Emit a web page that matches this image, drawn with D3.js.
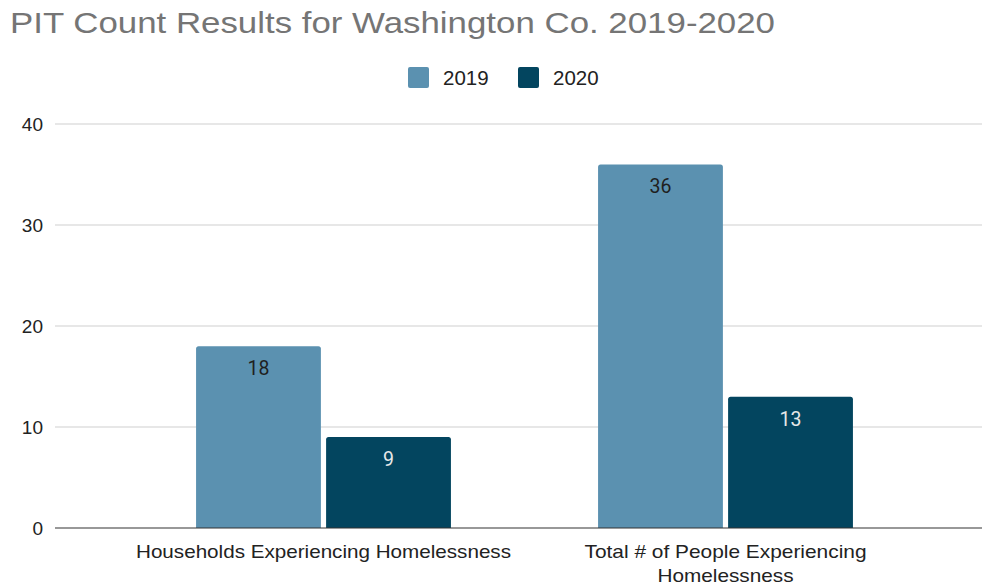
<!DOCTYPE html>
<html>
<head>
<meta charset="utf-8">
<title>PIT Count Results for Washington Co. 2019-2020</title>
<style>
  body { margin: 0; background: #fff; }
</style>
<script src="https://d3js.org/d3.v7.min.js"></script>
</head>
<body>
<div id="chart"></div>
<script>
var categories = ["Households Experiencing Homelessness", "Total # of People Experiencing Homelessness"];
var seriesNames = ["2019", "2020"];
var values2019 = [18, 36];
var values2020 = [9, 13];
var yTicks = [0, 10, 20, 30, 40];
var colors = ["#5b91b0", "#03455f"];
var labelColors = ["#1f1f1f", "#e8e8e8"];

var sans = "'Liberation Sans', Arial, sans-serif";
var width = 985, height = 586;
var svg = d3.select("#chart").append("svg")
    .attr("width", width)
    .attr("height", height);

var left = 55, right = 982;
var y = d3.scaleLinear().domain([0, 40]).range([528, 124]);

var x0 = d3.scaleBand().domain(categories).range([122.5, 926.5])
    .paddingInner(0.366).paddingOuter(0.183);
var x1 = d3.scaleBand().domain(seriesNames).range([0, x0.bandwidth()]).paddingInner(0.04);

// title
svg.append("text")
    .attr("x", 10).attr("y", 33)
    .attr("font-family", sans)
    .attr("font-size", 29)
    .attr("fill", "#757575")
    .attr("textLength", 765)
    .attr("lengthAdjust", "spacingAndGlyphs")
    .text("PIT Count Results for Washington Co. 2019-2020");

// legend
var legendX = [408, 518];
seriesNames.forEach(function (s, i) {
    svg.append("rect")
        .attr("x", legendX[i]).attr("y", 67)
        .attr("width", 21).attr("height", 21)
        .attr("rx", 2)
        .attr("fill", colors[i]);
    svg.append("text")
        .attr("x", legendX[i] + 35).attr("y", 85)
        .attr("font-family", sans)
        .attr("font-size", 20.5)
        .attr("fill", "#222")
        .text(s);
});

// gridlines
svg.selectAll(".grid").data(yTicks.filter(d => d > 0)).enter()
    .append("line")
    .attr("x1", left).attr("x2", right)
    .attr("y1", d => y(d)).attr("y2", d => y(d))
    .attr("stroke", "#cfcfcf").attr("stroke-width", 1);

// y labels
svg.selectAll(".ylab").data(yTicks).enter()
    .append("text")
    .attr("x", 43).attr("y", d => y(d) + 6.5)
    .attr("text-anchor", "end")
    .attr("font-family", sans)
    .attr("font-size", 19)
    .attr("fill", "#222")
    .text(d => d);

// bars
var rows = categories.map(function (c, i) {
    return { cat: c, vals: [values2019[i], values2020[i]] };
});

function topRounded(x, yTop, w, h, r) {
    return "M" + x + "," + (yTop + h) +
        "V" + (yTop + r) +
        "Q" + x + "," + yTop + " " + (x + r) + "," + yTop +
        "H" + (x + w - r) +
        "Q" + (x + w) + "," + yTop + " " + (x + w) + "," + (yTop + r) +
        "V" + (yTop + h) + "Z";
}

var groups = svg.selectAll(".grp").data(rows).enter()
    .append("g")
    .attr("transform", d => "translate(" + x0(d.cat) + ",0)");

groups.selectAll("path").data(d => d.vals.map((v, i) => ({ s: seriesNames[i], v: v, i: i })))
    .enter().append("path")
    .attr("d", d => topRounded(x1(d.s), y(d.v), x1.bandwidth(), y(0) - y(d.v), 2.5))
    .attr("fill", d => colors[d.i]);

groups.selectAll(".val").data(d => d.vals.map((v, i) => ({ s: seriesNames[i], v: v, i: i })))
    .enter().append("text")
    .attr("x", d => x1(d.s) + x1.bandwidth() / 2)
    .attr("y", d => y(d.v) + 29)
    .attr("text-anchor", "middle")
    .attr("font-family", "Roboto, sans-serif")
    .attr("font-size", 19.5)
    .attr("fill", d => labelColors[d.i])
    .text(d => d.v);

// baseline
svg.append("line")
    .attr("x1", left).attr("x2", right)
    .attr("y1", y(0)).attr("y2", y(0))
    .attr("stroke", "#333").attr("stroke-width", 1.2);

// x labels
var xLabelLines = [["Households Experiencing Homelessness"], ["Total # of People Experiencing", "Homelessness"]];
var xLabelWidths = [[375], [282, 136]];
categories.forEach(function (c, i) {
    var cx = x0(c) + x0.bandwidth() / 2;
    xLabelLines[i].forEach(function (ln, j) {
        svg.append("text")
            .attr("x", cx)
            .attr("y", 558 + j * 24)
            .attr("text-anchor", "middle")
            .attr("font-family", sans)
            .attr("font-size", 18.5)
            .attr("fill", "#222")
            .attr("textLength", xLabelWidths[i][j])
            .attr("lengthAdjust", "spacingAndGlyphs")
            .text(ln);
    });
});
</script>
</body>
</html>
